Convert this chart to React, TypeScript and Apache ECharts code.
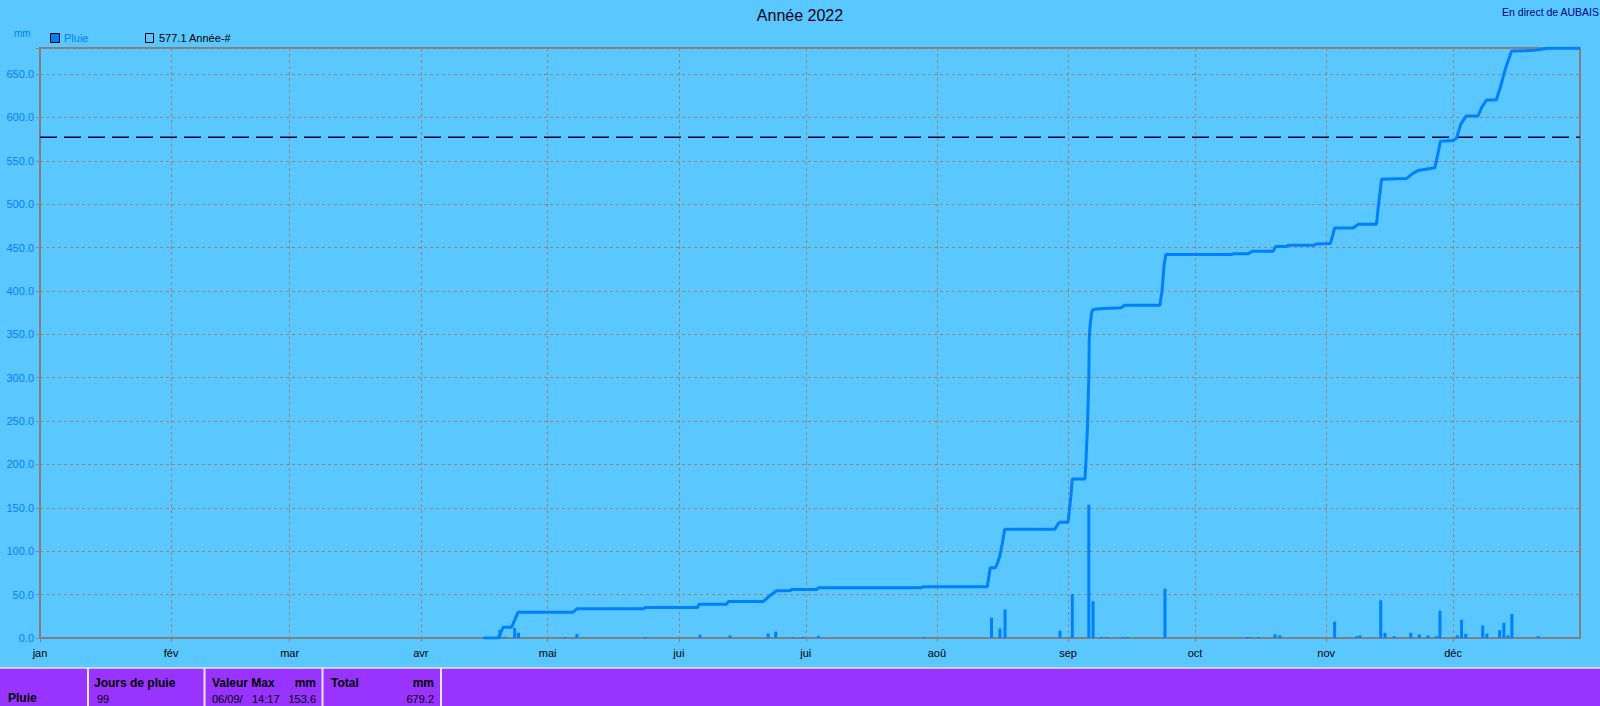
import React, { useEffect, useRef } from "react";
import * as echarts from "echarts";

// ---- axis data ----
const monthLabels = ["jan", "fév", "mar", "avr", "mai", "jui", "jui", "aoû", "sep", "oct", "nov", "déc"];
const monthStartDays = [0, 31, 59, 90, 120, 151, 181, 212, 243, 273, 304, 334];
const DAY_COUNT = 365;
const Y_MAX = 680;
const Y_INTERVAL = 50;

// ---- yearly normal ----
const normalName = "577.1 Année-#";
const normalValue = 577.1;

// ---- cumulative rain (day of year, mm) ----
const cumDays = [
  104.8, 108.3, 109.5, 111.5, 113.0, 126.0, 126.9, 142.6, 143.0, 155.4, 155.8, 162.3, 162.7, 171.0, 172.2, 174.1,
  177.3, 177.6, 183.6, 184.0, 208.4, 208.6, 223.9, 224.6, 225.8, 226.3, 226.9, 227.5, 228.0, 239.9, 240.6, 241.1,
  243.0, 243.6, 244.0, 247.0, 247.2, 247.6, 247.9, 248.0, 248.2, 248.6, 249.0, 250.5, 255.5, 256.4, 264.7, 265.2,
  265.7, 266.1, 281.7, 282.0, 285.6, 286.6, 291.5, 292.0, 294.7, 295.0, 301.3, 301.6, 305.0, 306.0, 310.4, 311.6,
  315.9, 316.4, 317.1, 323.0, 324.2, 325.7, 329.7, 330.5, 331.0, 334.0, 334.8, 335.8, 337.1, 339.9, 340.8, 341.9,
  344.2, 345.2, 346.3, 347.8, 353.3, 356.4, 364.0,
];
const cumMm = [
  0, 0, 12.5, 12.5, 29.8, 29.8, 33.6, 33.6, 35.1, 35.1, 39.0, 39.0, 42.1, 42.1, 47.5, 54.4,
  54.4, 55.9, 55.9, 57.8, 57.8, 59.0, 59.0, 81.0, 81.0, 86.0, 95.0, 110.0, 125.4, 125.4, 131.5, 133.5,
  133.5, 160.0, 183.3, 183.3, 201.0, 245.0, 300.0, 345.0, 360.0, 376.0, 378.6, 379.5, 380.5, 383.5, 383.5, 400.0,
  430.0, 441.9, 441.9, 443.0, 443.0, 445.8, 445.8, 451.2, 451.2, 452.7, 452.7, 454.2, 454.6, 472.5, 472.5, 477.0,
  477.0, 500.0, 528.6, 529.5, 534.4, 538.9, 542.0, 560.0, 572.5, 573.4, 576.0, 592.0, 601.6, 601.6, 612.0, 620.0,
  620.0, 635.0, 655.0, 676.4, 677.3, 679.6, 679.6,
];

// ---- daily rain (day of year, mm) ----
const rainDays = [
  108.7, 109.9, 112.2, 113.1, 124.1, 126.9, 143.0, 156.0, 163.1, 172.1, 173.9, 178.0, 180.4, 184.0, 208.9,
  224.9, 226.9, 228.1, 241.1, 244.0, 247.9, 248.9, 250.9, 252.1, 256.0, 257.0, 265.9, 285.2, 286.0, 288.0,
  291.9, 293.1, 306.0, 311.2, 312.0, 316.9, 317.9, 320.1, 324.0, 326.0, 328.1, 330.1, 330.9, 335.0, 336.0,
  337.0, 341.0, 342.0, 345.0, 346.0, 347.0, 347.9, 354.1,
];
const rainMm = [
  9.5, 1.5, 11.5, 6.0, 1.2, 4.5, 1.2, 3.8, 3.0, 5.4, 7.3, 1.2, 1.2, 2.5, 1.2,
  23.5, 10.8, 32.8, 8.5, 50.5, 153.6, 42.4, 1.2, 1.2, 1.2, 1.2, 57.0, 1.2, 1.2, 1.2,
  4.2, 3.0, 18.9, 2.0, 3.0, 43.5, 6.0, 2.0, 6.0, 4.0, 3.0, 2.0, 31.4, 3.0, 21.0,
  5.0, 14.4, 5.0, 9.0, 17.5, 3.0, 27.8, 2.0,
];

// ---- texts ----
const titleText = "Année 2022";
const stationText = "En direct de AUBAIS";
const unitText = "mm";
const seriesName = "Pluie";
const rainDaysLabel = "Jours de pluie";
const rainDaysValue = "99";
const maxLabel = "Valeur Max";
const maxDate = "06/09/";
const maxTime = "14:17";
const maxValue = "153.6";
const totalLabel = "Total";
const totalValue = "679.2";

const BG = "#5AC8FF";
const BLUE = "#0080FF";
const GRID_COLOR = "#A08070";
const AXIS_GREY = "#808080";
const PURPLE = "#9933FF";
const FONT = '"Liberation Sans", Arial, sans-serif';

export default function App() {
  const ref = useRef<HTMLDivElement>(null);

  useEffect(() => {
    if (!ref.current) return;
    const chart = echarts.init(ref.current, undefined, { renderer: "svg" });
    const categories = Array.from({ length: DAY_COUNT }, (_, i) => String(i));
    const isMonthStart = (idx: number) => monthStartDays.indexOf(idx) >= 0;

    const bold = (s: number) => `bold ${s}px ${FONT}`;
    const normal = (s: number) => `${s}px ${FONT}`;
    const txt = (x: number, y: number, text: string, font: string, fill: string, align = "left") => ({
      type: "text",
      x,
      y,
      silent: true,
      style: { text, font, fill, align, verticalAlign: "middle" },
    });
    const vsep = (x: number) => ({
      type: "line",
      silent: true,
      shape: { x1: x, y1: 668, x2: x, y2: 706 },
      style: { stroke: "#E8E8F0", lineWidth: 2 },
    });

    chart.setOption({
      animation: false,
      backgroundColor: BG,
      textStyle: { fontFamily: FONT },
      grid: {
        left: 40,
        top: 48,
        width: 1540,
        height: 590,
        show: true,
        borderColor: AXIS_GREY,
        borderWidth: 2,
        backgroundColor: "transparent",
      },
      xAxis: [
        {
          type: "category",
          data: categories,
          boundaryGap: false,
          axisLine: { show: true, lineStyle: { color: AXIS_GREY, width: 2 } },
          axisTick: { show: true, interval: (i: number) => isMonthStart(i), length: 4, lineStyle: { color: AXIS_GREY } },
          axisLabel: {
            interval: (i: number) => isMonthStart(i),
            formatter: (_v: string, i: number) => {
              const k = monthStartDays.indexOf(i);
              return k >= 0 ? monthLabels[k] : "";
            },
            color: "#000000",
            fontSize: 11,
            margin: 9,
            fontFamily: FONT,
          },
          splitLine: {
            show: true,
            interval: (i: number) => isMonthStart(i),
            lineStyle: { color: GRID_COLOR, type: [3, 3], width: 1 },
          },
        },
        {
          type: "value",
          min: 0,
          max: DAY_COUNT - 1,
          show: false,
          splitLine: { show: false },
        },
      ],
      yAxis: {
        type: "value",
        min: 0,
        max: Y_MAX,
        interval: Y_INTERVAL,
        axisLine: { show: true, lineStyle: { color: AXIS_GREY, width: 2 } },
        axisTick: { show: true, length: 4, lineStyle: { color: GRID_COLOR } },
        axisLabel: {
          color: BLUE,
          fontSize: 11,
          margin: 6,
          fontFamily: FONT,
          formatter: (v: number) => (v % Y_INTERVAL === 0 ? v.toFixed(1) : ""),
        },
        splitLine: { show: true, lineStyle: { color: GRID_COLOR, type: [3, 3], width: 1 } },
      },
      series: [
        {
          name: seriesName,
          type: "bar",
          xAxisIndex: 1,
          barWidth: 3,
          itemStyle: { color: BLUE },
          data: rainDays.map((d, i) => [d, rainMm[i]]),
          z: 2,
        },
        {
          name: normalName,
          type: "line",
          xAxisIndex: 1,
          symbol: "none",
          lineStyle: { color: "#000033", width: 1.5, type: [17, 7] },
          data: [
            [0, normalValue],
            [DAY_COUNT - 1, normalValue],
          ],
          z: 3,
        },
        {
          name: seriesName + " cumul",
          type: "line",
          xAxisIndex: 1,
          symbol: "none",
          lineStyle: { color: BLUE, width: 3 },
          itemStyle: { color: BLUE },
          data: cumDays.map((d, i) => [d, cumMm[i]]),
          z: 4,
        },
      ],
      graphic: [
        txt(800, 15, titleText, normal(16), "#000020", "center"),
        txt(1599, 12, stationText, normal(10.5), "#000080", "right"),
        txt(14, 33, unitText, normal(10), BLUE),
        {
          type: "rect",
          silent: true,
          shape: { x: 50.5, y: 33.5, width: 9, height: 9 },
          style: { fill: BLUE, stroke: "#000000", lineWidth: 1 },
        },
        txt(64, 38, seriesName, normal(11), BLUE),
        {
          type: "rect",
          silent: true,
          shape: { x: 145.5, y: 33.5, width: 8, height: 9 },
          style: { fill: "none", stroke: "#000000", lineWidth: 1 },
        },
        txt(159, 38, normalName, normal(11), "#000000"),
        // bottom table
        {
          type: "rect",
          silent: true,
          shape: { x: 0, y: 668, width: 1600, height: 38 },
          style: { fill: PURPLE },
        },
        {
          type: "line",
          silent: true,
          shape: { x1: 0, y1: 668, x2: 1600, y2: 668 },
          style: { stroke: "#E8E8F0", lineWidth: 1.5 },
        },
        vsep(88),
        vsep(204.5),
        vsep(322.5),
        vsep(441),
        txt(8, 698, seriesName, bold(12), "#000000"),
        txt(94, 683, rainDaysLabel, bold(12), "#000000"),
        txt(97, 699, rainDaysValue, normal(11), "#000000"),
        txt(212, 683, maxLabel, bold(12), "#000000"),
        txt(316, 683, unitText, bold(12), "#000000", "right"),
        txt(212, 699, maxDate, normal(11), "#000000"),
        txt(252, 699, maxTime, normal(11), "#000000"),
        txt(316, 699, maxValue, normal(11), "#000000", "right"),
        txt(331, 683, totalLabel, bold(12), "#000000"),
        txt(434, 683, unitText, bold(12), "#000000", "right"),
        txt(434, 699, totalValue, normal(11), "#000000", "right"),
      ],
    });

    return () => chart.dispose();
  }, []);

  return (
    <div
      ref={ref}
      style={{ position: "absolute", left: 0, top: 0, width: 1600, height: 706, background: BG }}
    />
  );
}
